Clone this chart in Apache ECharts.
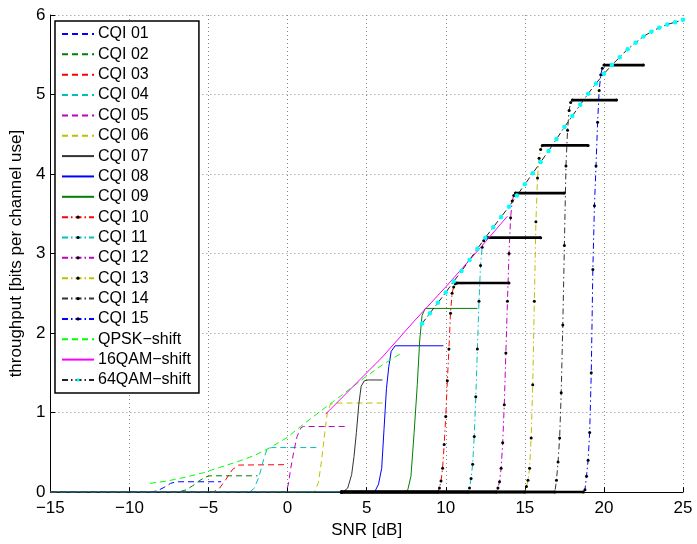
<!DOCTYPE html>
<html>
<head>
<meta charset="utf-8">
<script src="https://cdn.jsdelivr.net/npm/echarts@6/dist/echarts.min.js"></script>
<style>html,body{margin:0;padding:0;background:#fff}#c{width:697px;height:544px}</style>
</head>
<body>
<div id="c"></div>
<script>
// ---- data: [SNR dB, throughput] ----
const cqi01 = [[-15,0],[-8.6,0],[-8.2,0.02],[-7.8,0.06],[-7.4,0.11],[-7.0,0.13],[-4.2,0.13]];
const cqi02 = [[-15,0],[-6.9,0],[-6.4,0.03],[-6.0,0.08],[-5.6,0.14],[-5.2,0.19],[-4.9,0.205],[-1.9,0.205]];
const cqi03 = [[-15,0],[-4.7,0],[-4.3,0.05],[-3.9,0.16],[-3.5,0.28],[-3.1,0.34],[-0.2,0.345]];
const cqi04 = [[-15,0],[-2.4,0],[-2.1,0.05],[-1.8,0.2],[-1.5,0.42],[-1.3,0.54],[-1.0,0.56],[1.95,0.56]];
const cqi05 = [[-15,0],[-0.1,0],[0.05,0.1],[0.2,0.3],[0.4,0.52],[0.6,0.7],[0.85,0.81],[1.0,0.825],[3.75,0.825]];
const cqi06 = [[-15,0],[1.7,0],[1.95,0.12],[2.15,0.4],[2.35,0.75],[2.5,0.98],[2.7,1.1],[2.95,1.12],[6.0,1.12]];
const cqi07 = [[-15,0],[3.5,0],[3.8,0.05],[4.05,0.22],[4.2,0.45],[4.35,0.75],[4.5,1.1],[4.65,1.33],[4.85,1.4],[5.1,1.41],[6.0,1.41]];
const cqi08 = [[-15,0],[5.5,0],[5.75,0.1],[5.95,0.3],[6.1,0.8],[6.25,1.3],[6.4,1.58],[6.55,1.77],[6.8,1.84],[9.85,1.84]];
const cqi09 = [[-15,0],[7.4,0],[7.6,0.03],[7.8,0.2],[8.0,0.75],[8.2,1.35],[8.35,1.9],[8.5,2.22],[8.7,2.31],[12.0,2.31]];
const cqi10 = [[3.4,0],[9.5,0],[9.6,0.05],[9.7,0.14],[9.8,0.3],[9.9,0.6],[10.0,0.95],[10.1,1.4],[10.2,1.8],[10.3,2.25],[10.4,2.5],[10.5,2.58],[10.6,2.62],[10.7,2.63],[14.0,2.63]];
const cqi11 = [[3.4,0],[11.4,0],[11.5,0.05],[11.6,0.17],[11.7,0.35],[11.8,0.7],[11.9,1.2],[12.0,1.8],[12.1,2.4],[12.2,2.85],[12.3,3.08],[12.4,3.16],[12.5,3.19],[12.6,3.2],[16.0,3.2]];
const cqi12 = [[3.4,0],[13.2,0],[13.3,0.05],[13.4,0.13],[13.5,0.3],[13.6,0.62],[13.7,1.1],[13.8,1.75],[13.9,2.4],[14.0,3.0],[14.1,3.45],[14.2,3.66],[14.3,3.73],[14.4,3.76],[17.5,3.76]];
const cqi13 = [[3.4,0],[15.0,0],[15.1,0.07],[15.2,0.15],[15.3,0.3],[15.4,0.68],[15.5,1.35],[15.6,2.4],[15.7,3.4],[15.8,3.95],[15.9,4.2],[16.0,4.31],[16.1,4.36],[19.0,4.36]];
const cqi14 = [[3.4,0],[16.9,0],[17.0,0.15],[17.1,0.38],[17.2,0.68],[17.3,1.25],[17.4,2.1],[17.5,3.1],[17.6,4.1],[17.7,4.55],[17.8,4.8],[17.9,4.9],[18.0,4.93],[20.8,4.93]];
const cqi15 = [[3.4,0],[18.7,0],[18.8,0.03],[18.9,0.2],[19.0,0.4],[19.1,0.75],[19.2,1.5],[19.3,2.8],[19.4,3.6],[19.5,4.1],[19.6,4.65],[19.7,5.05],[19.8,5.25],[19.9,5.33],[20.0,5.37],[22.5,5.37]];
const qpskShift = [[-8.7,0.11],[-7.6,0.14],[-6.4,0.19],[-5.3,0.245],[-4.3,0.31],[-3.2,0.38],[-2.1,0.46],[-1.1,0.56],[0,0.69],[0.6,0.79],[1.5,0.93],[2.5,1.08],[3.5,1.23],[4.8,1.43],[6,1.6],[7.2,1.75]];
const qam16Shift = [[2.4,0.98],[4,1.3],[6,1.7],[8,2.15],[10,2.58],[12,3.03],[13.9,3.47]];
const qam64Shift = [[8.5,2.12],[9,2.25],[9.5,2.38],[10,2.51],[10.5,2.65],[11,2.78],[11.5,2.92],[12,3.06],[12.5,3.2],[13,3.33],[13.5,3.46],[14,3.59],[14.5,3.73],[15,3.87],[15.5,4.01],[16,4.15],[16.5,4.29],[17,4.44],[17.5,4.59],[18,4.73],[18.5,4.87],[19,5.01],[19.5,5.14],[20,5.26],[20.5,5.37],[21,5.47],[21.5,5.57],[22,5.65],[22.5,5.73],[23,5.79],[23.5,5.84],[24,5.88],[24.5,5.91],[25,5.94]];

const names = ['CQI 01','CQI 02','CQI 03','CQI 04','CQI 05','CQI 06','CQI 07','CQI 08','CQI 09','CQI 10','CQI 11','CQI 12','CQI 13','CQI 14','CQI 15','QPSK\u2212shift','16QAM\u2212shift','64QAM\u2212shift'];
const xTicks = {min:-15, max:25, step:5};
const yTicks = {min:0, max:6, step:1};

// ---- styling ----
const FONT = 'Liberation Sans, Arial, Helvetica, sans-serif';
const DASH = [6,4];
const DASHDOT = [6,3,1.5,3];
const styles = [
  ['#0000ff', DASH], ['#008000', DASH], ['#ff0000', DASH], ['#00bfbf', DASH], ['#bf00bf', DASH], ['#bfbf00', DASH],
  ['#333333', 'solid'], ['#0000ff', 'solid'], ['#008000', 'solid'],
  ['#ff0000', DASHDOT], ['#00bfbf', DASHDOT], ['#bf00bf', DASHDOT], ['#bfbf00', DASHDOT], ['#333333', DASHDOT], ['#0000ff', DASHDOT]
];
const cqis = [cqi01,cqi02,cqi03,cqi04,cqi05,cqi06,cqi07,cqi08,cqi09,cqi10,cqi11,cqi12,cqi13,cqi14,cqi15];
const hasMarker = names.map((n, i) => (i >= 9 && i <= 14) || i === 17);

const series = [];
cqis.forEach((d, i) => {
  const marked = hasMarker[i];
  series.push({
    name: names[i], type: 'line', data: d, z: 2,
    symbol: marked ? 'circle' : 'none', symbolSize: 3, showSymbol: marked,
    itemStyle: { color: marked ? '#000' : styles[i][0] },
    lineStyle: { color: styles[i][0], width: 1, type: styles[i][1] },
    silent: true
  });
});
// dense marker runs (flat bottom and plateau) of CQI 10-15 drawn as thick black runs
cqis.slice(9).forEach((d) => {
  let lastZero = 0;
  d.forEach((p, k) => { if (p[1] === 0) lastZero = k; });
  const runs = [[d[0], d[lastZero]], [d[d.length - 2], d[d.length - 1]]];
  runs.forEach(r => series.push({
    type: 'line', data: r, symbol: 'none', silent: true, z: 2,
    lineStyle: { color: '#000', width: 2.6 }
  }));
});
series.push({
  name: names[15], type: 'line', data: qpskShift, symbol: 'none', z: 3, silent: true,
  itemStyle: { color: '#00ff00' }, lineStyle: { color: '#00ff00', width: 1, type: DASH }
});
series.push({
  name: names[16], type: 'line', data: qam16Shift, symbol: 'none', z: 3, silent: true,
  itemStyle: { color: '#ff00ff' }, lineStyle: { color: '#ff00ff', width: 1, type: 'solid' }
});
series.push({
  name: names[17], type: 'line', data: qam64Shift, symbol: 'circle', symbolSize: 4.5, showSymbol: true, z: 4, silent: true,
  itemStyle: { color: '#00ffff', borderWidth: 0 }, lineStyle: { color: '#222', width: 1, type: DASHDOT }
});

const minus = v => String(v).replace('-', '\u2212');
const axisCommon = {
  type: 'value',
  axisLine: { show: true, onZero: false, lineStyle: { color: '#000', width: 1 } },
  axisTick: { show: true, inside: true, length: 5, lineStyle: { color: '#000' } },
  splitLine: { show: true, lineStyle: { color: '#888', width: 1, type: [1, 3] } },
  axisLabel: { color: '#000', fontSize: 17, fontFamily: FONT, formatter: minus },
  nameTextStyle: { color: '#000', fontSize: 17, fontFamily: FONT },
  nameLocation: 'middle'
};

const legendData = names.map((n, i) => hasMarker[i]
  ? { name: n }
  : { name: n, itemStyle: { color: 'rgba(0,0,0,0)', borderColor: 'rgba(0,0,0,0)', borderWidth: 0, opacity: 0 } });

const chart = echarts.init(document.getElementById('c'), null, { renderer: 'canvas' });
chart.setOption({
  animation: false,
  backgroundColor: '#fff',
  grid: { left: 50, right: 14, top: 15, bottom: 47, containLabel: false },
  xAxis: Object.assign({}, axisCommon, {
    min: xTicks.min, max: xTicks.max, interval: xTicks.step,
    name: 'SNR [dB]', nameGap: 28,
    axisLabel: Object.assign({}, axisCommon.axisLabel, { margin: 8 })
  }),
  yAxis: Object.assign({}, axisCommon, {
    min: yTicks.min, max: yTicks.max, interval: yTicks.step,
    name: 'throughput [bits per channel use]', nameGap: 24,
    axisLabel: Object.assign({}, axisCommon.axisLabel, { margin: 5 })
  }),
  legend: {
    data: legendData, orient: 'vertical', left: 55, top: 21,
    backgroundColor: '#fff', borderColor: '#000', borderWidth: 1.5, borderRadius: 0,
    padding: [5, 8, 5, 6], itemGap: 4.35, itemWidth: 32, itemHeight: 4,
    textStyle: { color: '#000', fontSize: 16, fontFamily: FONT, padding: [0, 0, 0, -1] },
    selectedMode: false
  },
  series: series
});
</script>
</body>
</html>
